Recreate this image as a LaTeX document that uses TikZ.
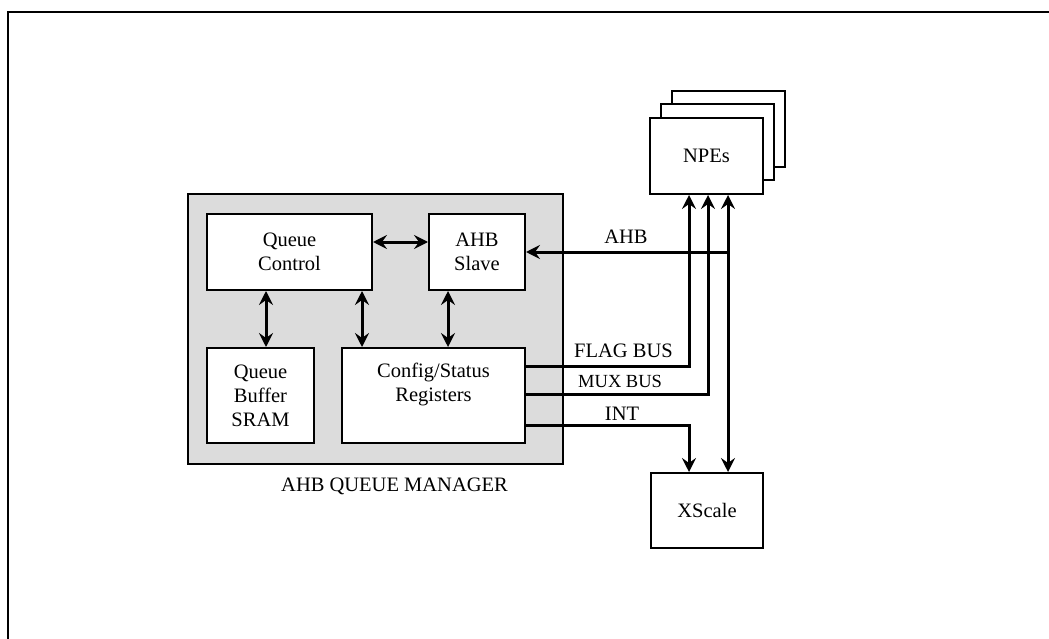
\documentclass[tikz,border=0pt]{standalone}
\usepackage{fontspec}
\setmainfont{Liberation Serif}
\usetikzlibrary{arrows.meta}
\begin{document}
\begin{tikzpicture}[x=1pt,y=-1pt,
  every node/.style={font=\fontsize{20.5}{24}\selectfont},
  blk/.style={draw,line width=2pt,fill=white,rectangle,inner sep=0pt,align=center},
  lbl/.style={inner sep=0pt},
  conn/.style={line width=3pt,line join=miter},
  tip/.style={-{Stealth[length=14pt,width=14pt,inset=5pt]}},
  bitip/.style={{Stealth[length=14pt,width=14pt,inset=5pt]}-{Stealth[length=14pt,width=14pt,inset=5pt]}}]
\useasboundingbox (0,0) rectangle (1049,639);
\draw[line width=2.3pt] (8,639) -- (8,12) -- (1049,12);
% gray manager box
\node[draw,line width=1.5pt,fill={rgb,255:red,220;green,220;blue,220},minimum width=375pt,minimum height=270pt,inner sep=0pt] (qm) at (375.5,329) {};
\node[lbl,anchor=base west] (qmlbl) at (281,491) {AHB QUEUE MANAGER};
% inner blocks
\node[blk,minimum width=165pt,minimum height=76pt] (qc) at (289.5,252) {Queue\\Control};
\node[blk,minimum width=96pt,minimum height=76pt] (slave) at (477,252) {AHB\\Slave};
\node[blk,minimum width=107pt,minimum height=95pt] (qbuf) at (260.5,395.5) {Queue\\Buffer\\SRAM};
\node[blk,minimum width=183pt,minimum height=95pt] (cfg) at (433.5,395.5) {};
\node[lbl,align=center] (cfgt) at (433.5,384) {Config/Status\\Registers};
% NPE stack
\node[blk,minimum width=113pt,minimum height=76pt] (npe3) at (728.5,129) {};
\node[blk,minimum width=113pt,minimum height=76pt] (npe2) at (717.5,142) {};
\node[blk,minimum width=113pt,minimum height=76pt] (npe) at (706.5,156) {NPEs};
\node[blk,minimum width=112pt,minimum height=75pt] (xs) at (707,510.5) {XScale};
% helper coordinates
\coordinate (r0) at (0,242);
\coordinate (r1) at (0,366);
\coordinate (r2) at (0,394);
\coordinate (r3) at (0,425);
\coordinate (c1) at (266,0);
\coordinate (c2) at (362,0);
\coordinate (c3) at (448,0);
\coordinate (c4) at (689,0);
\coordinate (c5) at (708,0);
\coordinate (c6) at (728,0);
\coordinate (j) at (728,252);
% internal connectors
\draw[conn,bitip] (qc.east |- r0) -- (slave.west |- r0);
\draw[conn,bitip] (qc.south -| c1) -- (qbuf.north -| c1);
\draw[conn,bitip] (qc.south -| c2) -- (cfg.north -| c2);
\draw[conn,bitip] (slave.south -| c3) -- (cfg.north -| c3);
% external connectors
\draw[conn,tip] (j) -- (slave.east);
\draw[conn,bitip] (npe.south -| c6) -- (xs.north -| c6);
\draw[conn,tip] (cfg.east |- r1) -- (c4 |- r1) -- (npe.south -| c4);
\draw[conn,tip] (cfg.east |- r2) -- (c5 |- r2) -- (npe.south -| c5);
\draw[conn,tip] (cfg.east |- r3) -- (c4 |- r3) -- (xs.north -| c4);
% labels
\node[lbl,anchor=base] (ahb) at (626,243) {AHB};
\node[lbl,anchor=base west] (flag) at (574,357) {FLAG BUS};
\node[lbl,anchor=base west,font=\fontsize{18.5}{22}\selectfont] (mux) at (578,387) {MUX BUS};
\node[lbl,anchor=base] (int) at (622,420) {INT};
\end{tikzpicture}
\end{document}
